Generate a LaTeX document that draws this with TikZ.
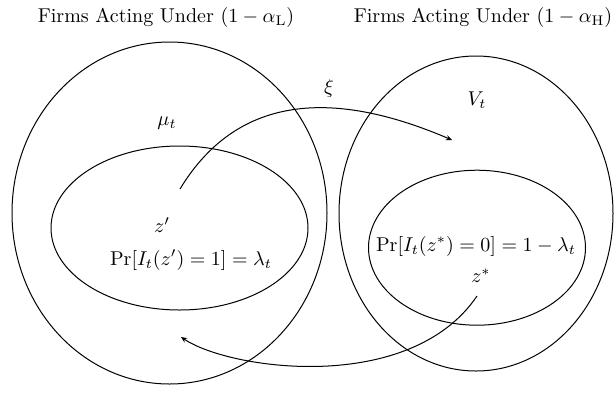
\documentclass[tikz,border=0pt]{standalone}
\usetikzlibrary{shapes.geometric,arrows.meta}
\begin{document}
\begin{tikzpicture}[x=0.5pt,y=-0.5pt,
  set/.style={draw,ellipse,inner sep=0pt,outer sep=0pt,line width=0.5pt},
  lbl/.style={inner sep=0pt,font=\fontsize{10}{12}\selectfont},
  flow/.style={line width=0.5pt,-{Stealth[length=3pt,width=2.6pt]}}]
\useasboundingbox (0,0) rectangle (616,392);
% sets
\node[set,minimum width=157.5pt,minimum height=171pt] (L) at (169.5,213) {};
\node[set,minimum width=137pt,minimum height=157.5pt] (H) at (476,213.5) {};
\node[set,minimum width=128.5pt,minimum height=82pt] (Ls) at (179.5,228) {};
\node[set,minimum width=108.5pt,minimum height=77.5pt] (Hs) at (477,247.7) {};
% labels
\node[lbl] (topL) at (166,17) {Firms Acting Under $(1-\alpha_\mathrm{L})$};
\node[lbl] (topR) at (483,17) {Firms Acting Under $(1-\alpha_\mathrm{H})$};
\node[lbl] (mu) at (167,123) {$\mu_t$};
\node[lbl] (xi) at (329,88) {$\xi$};
\node[lbl] (V) at (477,100) {$V_t$};
\node[lbl] (zp) at (162,225) {$z'$};
\node[lbl] (prL) at (191,260) {$\Pr[I_t(z')=1]=\lambda_t$};
\node[lbl] (prR) at (476,246) {$\Pr[I_t(z^*)=0]=1-\lambda_t$};
\node[lbl] (zs) at (481,276) {$z^*$};
% flows
\coordinate (a1s) at (180,189);
\coordinate (a1e) at (452,140);
\coordinate (a2s) at (477,296);
\coordinate (a2e) at (181,337);
\draw[flow] (a1s) .. controls (240,90) and (340,92) .. (a1e);
\draw[flow] (a2s) .. controls (410,395) and (230,370) .. (a2e);
\end{tikzpicture}
\end{document}
